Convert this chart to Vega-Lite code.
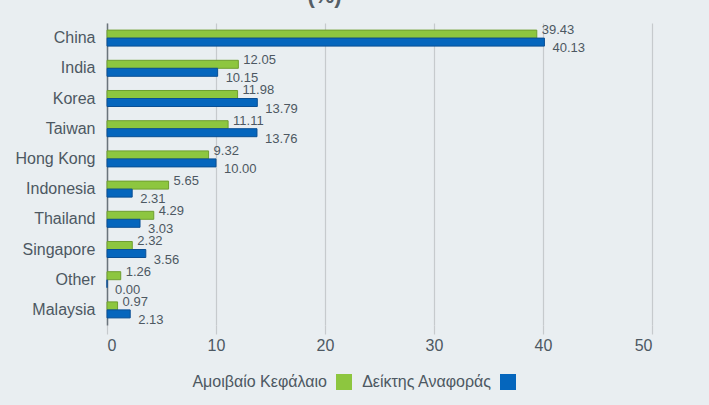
{
  "$schema": "https://vega.github.io/schema/vega-lite/v6.json",
  "width": 545,
  "height": 302,
  "autosize": "none",
  "padding": {"left": 107, "top": 23, "right": 57, "bottom": 80},
  "background": "#e9eef1",
  "title": {"text": "(%)", "fontSize": 22, "fontWeight": "bold", "font": "Liberation Sans", "color": "#555e66", "baseline": "bottom", "offset": 4, "dx": -55, "dy": 11, "anchor": "middle"},
  "config": {
    "view": {"stroke": null},
    "font": "Liberation Sans"
  },
  "data": {
    "values": [
      {"country": "China", "series": "Αμοιβαίο Κεφάλαιο", "value": 39.43},
      {"country": "China", "series": "Δείκτης Αναφοράς", "value": 40.13},
      {"country": "India", "series": "Αμοιβαίο Κεφάλαιο", "value": 12.05},
      {"country": "India", "series": "Δείκτης Αναφοράς", "value": 10.15},
      {"country": "Korea", "series": "Αμοιβαίο Κεφάλαιο", "value": 11.98},
      {"country": "Korea", "series": "Δείκτης Αναφοράς", "value": 13.79},
      {"country": "Taiwan", "series": "Αμοιβαίο Κεφάλαιο", "value": 11.11},
      {"country": "Taiwan", "series": "Δείκτης Αναφοράς", "value": 13.76},
      {"country": "Hong Kong", "series": "Αμοιβαίο Κεφάλαιο", "value": 9.32},
      {"country": "Hong Kong", "series": "Δείκτης Αναφοράς", "value": 10.00},
      {"country": "Indonesia", "series": "Αμοιβαίο Κεφάλαιο", "value": 5.65},
      {"country": "Indonesia", "series": "Δείκτης Αναφοράς", "value": 2.31},
      {"country": "Thailand", "series": "Αμοιβαίο Κεφάλαιο", "value": 4.29},
      {"country": "Thailand", "series": "Δείκτης Αναφοράς", "value": 3.03},
      {"country": "Singapore", "series": "Αμοιβαίο Κεφάλαιο", "value": 2.32},
      {"country": "Singapore", "series": "Δείκτης Αναφοράς", "value": 3.56},
      {"country": "Other", "series": "Αμοιβαίο Κεφάλαιο", "value": 1.26},
      {"country": "Other", "series": "Δείκτης Αναφοράς", "value": 0.00},
      {"country": "Malaysia", "series": "Αμοιβαίο Κεφάλαιο", "value": 0.97},
      {"country": "Malaysia", "series": "Δείκτης Αναφοράς", "value": 2.13}
    ]
  },
  "encoding": {
    "y": {
      "field": "country", "type": "nominal", "sort": null,
      "scale": {"paddingInner": 0.47, "paddingOuter": 0.235},
      "axis": {"title": null, "ticks": false, "labelFontSize": 16, "labelColor": "#4d5862", "labelPadding": 12, "domainColor": "#6b747c", "domainWidth": 1.5}
    },
    "x": {
      "field": "value", "type": "quantitative",
      "scale": {"domain": [0, 50], "nice": false},
      "axis": {"title": null, "values": [0, 10, 20, 30, 40, 50], "grid": true, "gridColor": "#c6cacd", "gridWidth": 1.2, "domain": false, "tickSize": 9, "tickColor": "#c6cacd", "tickWidth": 1.2, "labelFontSize": 16, "labelColor": "#4d5862", "labelPadding": 3}
    },
    "yOffset": {"field": "series", "type": "nominal", "sort": ["Αμοιβαίο Κεφάλαιο", "Δείκτης Αναφοράς"], "scale": {"paddingInner": 0}}
  },
  "layer": [
    {
      "mark": {"type": "bar", "strokeWidth": 1, "cornerRadius": 0},
      "encoding": {
        "color": {
          "field": "series", "type": "nominal",
          "scale": {"domain": ["Αμοιβαίο Κεφάλαιο", "Δείκτης Αναφοράς"], "range": ["#8dc63f", "#0566bd"]},
          "legend": {"title": null, "orient": "none", "legendX": 229, "legendY": 351, "direction": "horizontal", "symbolType": "square", "symbolSize": 256, "symbolStrokeWidth": 0, "labelFontSize": 16, "labelColor": "#4d5862", "labelAlign": "right", "labelOffset": -25, "columnPadding": 9, "labelLimit": 0}
        },
        "stroke": {
          "field": "series", "type": "nominal",
          "scale": {"domain": ["Αμοιβαίο Κεφάλαιο", "Δείκτης Αναφοράς"], "range": ["#6f9e30", "#0a4f94"]},
          "legend": null
        }
      }
    },
    {
      "transform": [{"filter": "datum.series === 'Αμοιβαίο Κεφάλαιο'"}],
      "mark": {"type": "text", "align": "left", "baseline": "middle", "dx": 5, "dy": -4, "fontSize": 13, "color": "#4d5862"},
      "encoding": {"text": {"field": "value", "type": "quantitative", "format": ".2f"}}
    },
    {
      "transform": [{"filter": "datum.series === 'Δείκτης Αναφοράς'"}],
      "mark": {"type": "text", "align": "left", "baseline": "middle", "dx": 8, "dy": 6, "fontSize": 13, "color": "#4d5862"},
      "encoding": {"text": {"field": "value", "type": "quantitative", "format": ".2f"}}
    }
  ]
}
